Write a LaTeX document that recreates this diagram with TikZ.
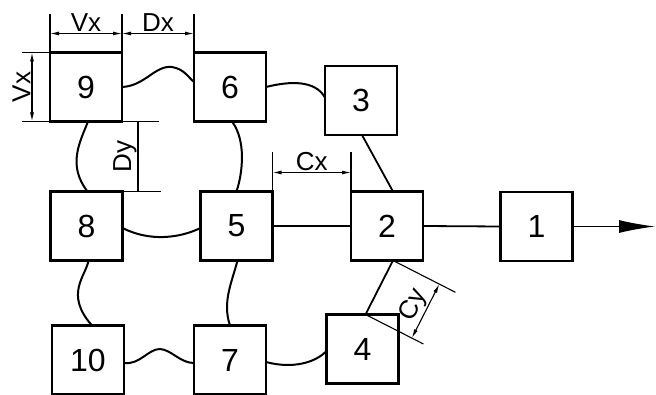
\documentclass[tikz,border=0pt]{standalone}
\usepackage{fontspec}
\setmainfont{Liberation Sans}
\usetikzlibrary{arrows.meta,calc}
\begin{document}
\begin{tikzpicture}[x=1pt,y=-1pt,
  blockbox/.style={draw,line width=2.2pt,outer sep=0pt,minimum width=72pt,minimum height=69pt,
    inner sep=0pt,font=\fontsize{32}{32}\selectfont},
  link/.style={line width=2pt},
  rod/.style={line width=1.8pt},
  dimline/.style={line width=1.1pt},
  dimarrow/.style={dimline,{Latex[length=9pt,width=4pt]}-{Latex[length=9pt,width=4pt]}},
  dimlabel/.style={font=\fontsize{26}{26}\selectfont,inner sep=1pt}]
\useasboundingbox (0,0) rectangle (656,395);

% blocks
\node[blockbox] (b9)  at (86,87)    {9};
\node[blockbox] (b6)  at (230,87)   {6};
\node[blockbox] (b3)  at (361,100.5){3};
\node[blockbox] (b8)  at (86.5,226) {8};
\node[blockbox] (b5)  at (236.5,226){5};
\node[blockbox] (b2)  at (387,226)  {2};
\node[blockbox] (b1)  at (536.5,226.5){1};
\node[blockbox] (b10) at (88,360)   {10};
\node[blockbox] (b7)  at (230,360)  {7};
\node[blockbox] (b4)  at (362.5,349){4};

% flexible links
\draw[link] (b9.east) .. controls (145,86) and (155,65) .. (172,67)
            .. controls (184,69) and (188,77) .. ($(b6.west)+(0,-5)$);
\draw[link] (b6.east) .. controls (290,81) and (315,80) .. ($(b3.west)+(0,-3)$);
\draw[link] ($(b6.south)+(2,0)$) .. controls (246,140) and (243,172) .. (b5.north);
\draw[link] ($(b9.south)+(2,0)$) .. controls (80,142) and (67,165) .. ($(b8.north)+(1,0)$);
\draw[link] ($(b8.east)+(0,2)$) .. controls (150,242) and (180,238) .. ($(b5.west)+(0,2)$);
\draw[link] ($(b8.south)+(2,0)$) .. controls (86,276) and (64,294) .. ($(b10.north)+(4,0)$);
\draw[link] ($(b5.south)+(1,0)$) .. controls (232,282) and (222,302) .. (b7.north);
\draw[link] ($(b10.east)+(0,3)$) .. controls (140,365) and (148,349) .. (160,349)
            .. controls (172,350) and (180,363) .. ($(b7.west)+(0,3)$);
\draw[link] ($(b7.east)+(0,2)$) .. controls (292,369) and (315,363) .. ($(b4.west)+(0,2)$);

% rigid links
\draw[rod] (b5.east) -- (b2.west);
\draw[rod] (b2.east) -- (b1.west);
\draw[rod] ($(b3.south)+(1,0)$) -- ($(b2.north)+(6,0)$);
\coordinate (cA) at ($(b2.south)+(6,0)$);
\coordinate (cB) at ($(b4.north)+(3,0)$);
\draw[rod] (cA) -- (cB);

% output
\coordinate (out) at (655,226.5);
\draw[line width=1.2pt,-{Latex[length=36pt,width=13pt]}] (b1.east) -- (out);

% dimension Vx / Dx along the top
\foreach \c in {b9.north west,b9.north east,b6.north west}
  \draw[dimline] (\c) -- ++(0,-38);
\coordinate (t1) at ($(b9.north west)+(0,-19)$);
\coordinate (t2) at ($(b9.north east)+(0,-19)$);
\coordinate (t3) at ($(b6.north west)+(0,-19)$);
\draw[dimarrow] (t1) -- node[dimlabel,above] {Vx} (t2);
\draw[dimarrow] (t2) -- node[dimlabel,above] {Dx} (t3);

% dimension Vx on the left
\draw[dimline] (b9.north west) -- ++(-28,0);
\draw[dimline] (b9.south west) -- ++(-28,0);
\coordinate (l1) at ($(b9.south west)+(-18,0)$);
\coordinate (l2) at ($(b9.north west)+(-18,0)$);
\draw[dimarrow] (l1) -- node[dimlabel,above,sloped] {Vx} (l2);

% dimension Dy
\draw[dimline] (b9.south east) -- ++(37,0);
\draw[dimline] (b8.north east) -- ++(38,0);
\coordinate (dyTop) at ($(b9.south east)+(16,0)$);
\draw[dimline] (dyTop |- b8.north) -- node[dimlabel,above,sloped] {Dy} (dyTop);

% dimension Cx
\draw[dimline] (b5.north east) -- ++(0,-39);
\draw[dimline] (b2.north west) -- ++(0,-39);
\coordinate (c1) at ($(b5.north east)+(0,-19)$);
\coordinate (c2) at ($(b2.north west)+(0,-19)$);
\draw[dimarrow] (c1) -- node[dimlabel,above] {Cx} (c2);

% dimension Cy, square to the link 2--4
\draw[dimline] (cA) -- ($(cA)!70pt!90:(cB)$);
\draw[dimline] (cB) -- ($(cB)!65pt!-90:(cA)$);
\coordinate (y1) at ($(cB)!52pt!-90:(cA)$);
\coordinate (y2) at ($(cA)!52pt!90:(cB)$);
\draw[dimarrow] (y1) -- node[dimlabel,above,sloped] {Cy} (y2);
\end{tikzpicture}
\end{document}
